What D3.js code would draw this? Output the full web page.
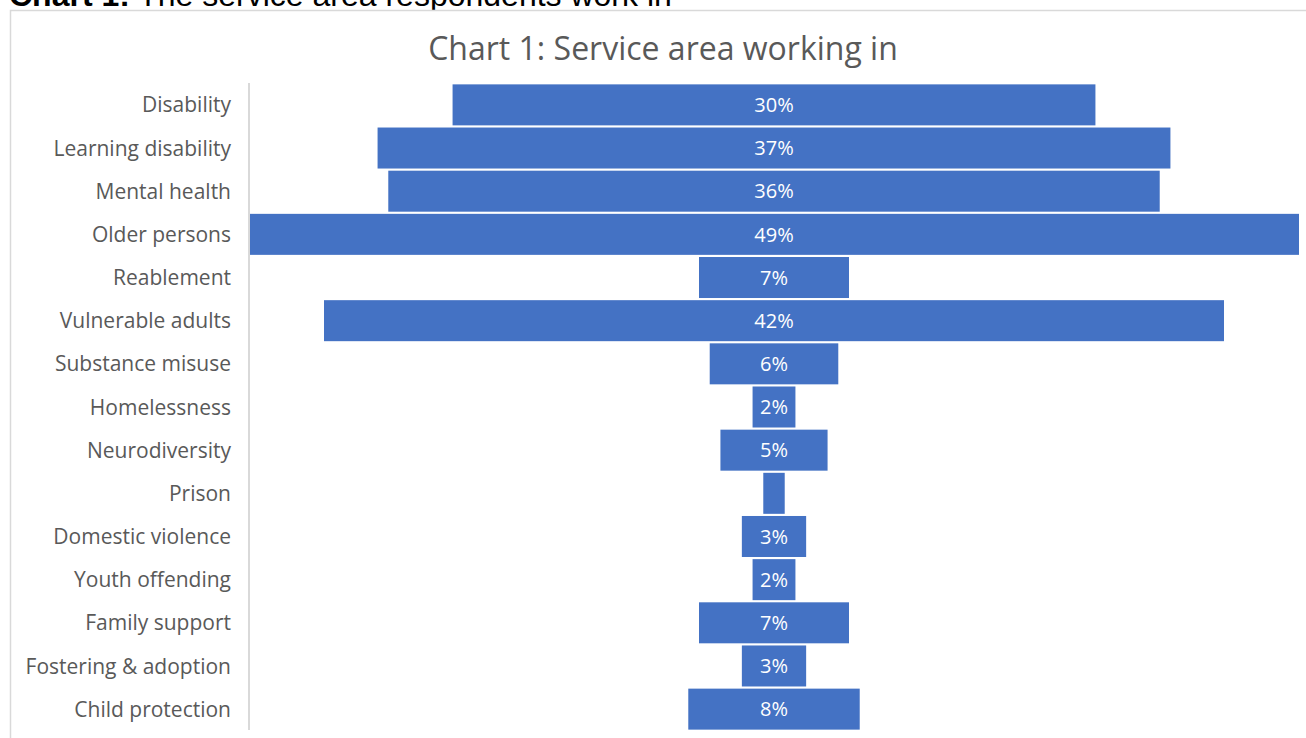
<!DOCTYPE html>
<html>
<head>
<meta charset="utf-8">
<script src="https://cdn.jsdelivr.net/npm/d3@7"></script>
<style>
  html, body { margin: 0; padding: 0; background: #fff; }
  svg { display: block; }
</style>
</head>
<body>
<svg id="chart" width="1306" height="738"></svg>
<script>
// Service areas, top to bottom
const categories = [
  "Disability", "Learning disability", "Mental health", "Older persons",
  "Reablement", "Vulnerable adults", "Substance misuse", "Homelessness",
  "Neurodiversity", "Prison", "Domestic violence", "Youth offending",
  "Family support", "Fostering & adoption", "Child protection"
];
// Share of respondents working in each area (%)
const values = [30, 37, 36, 49, 7, 42, 6, 2, 5, 1, 3, 2, 7, 3, 8];

const svg = d3.select("#chart");
const W = 1306, H = 738;

// Outer caption (runs above the frame)
const cap = svg.append("text")
  .attr("x", 9).attr("y", 6)
  .attr("font-family", "Liberation Sans, Arial, sans-serif")
  .attr("font-size", 32)
  .attr("fill", "#000");
cap.append("tspan").attr("font-weight", "bold").text("Chart 1:");
cap.append("tspan").text(" The service area respondents work in");

// Chart frame
svg.append("rect")
  .attr("x", 10.5).attr("y", 10.5)
  .attr("width", W + 20).attr("height", H + 20)
  .attr("fill", "#fff")
  .attr("stroke", "#d9d9d9").attr("stroke-width", 1.5);

// Title
svg.append("text")
  .attr("x", 663).attr("y", 60)
  .attr("text-anchor", "middle")
  .attr("font-family", "Open Sans, sans-serif")
  .attr("font-size", 32)
  .attr("fill", "#595959")
  .text("Chart 1: Service area working in");

const plotLeft = 249, plotRight = 1299;
const center = (plotLeft + plotRight) / 2;

const y = d3.scaleBand()
  .domain(categories)
  .range([83.5, 730.5])
  .paddingInner(0.05)
  .paddingOuter(0.02);

const w = d3.scaleLinear()
  .domain([0, d3.max(values)])
  .range([0, plotRight - plotLeft]);

const data = categories.map((c, i) => ({ c, v: values[i] }));

// Funnel bars, centred on the plot
svg.append("g").selectAll("rect")
  .data(data)
  .join("rect")
  .attr("x", d => center - w(d.v) / 2)
  .attr("y", d => y(d.c))
  .attr("width", d => w(d.v))
  .attr("height", y.bandwidth())
  .attr("fill", "#4472c4");

// Value labels, shown where they fit inside the bar
const lbl = svg.append("g").selectAll("text")
  .data(data)
  .join("text")
  .attr("x", center)
  .attr("y", d => y(d.c) + y.bandwidth() / 2)
  .attr("dy", "0.36em")
  .attr("text-anchor", "middle")
  .attr("font-family", "Open Sans, sans-serif")
  .attr("font-size", 20)
  .attr("fill", "#fff")
  .text(d => d.v + "%");
lbl.each(function(d) {
  if (this.getComputedTextLength() + 4 > w(d.v)) d3.select(this).remove();
});

// Category axis
const axis = d3.axisLeft(y).tickSize(0).tickPadding(18);
const ag = svg.append("g")
  .attr("transform", `translate(${plotLeft},0)`)
  .call(axis);
ag.select(".domain").remove();
ag.selectAll("text")
  .attr("font-family", "Open Sans, sans-serif")
  .attr("font-size", 21)
  .attr("dy", "0.36em")
  .attr("fill", "#595959");

svg.append("line")
  .attr("x1", plotLeft).attr("x2", plotLeft)
  .attr("y1", 83).attr("y2", 730)
  .attr("stroke", "#d9d9d9").attr("stroke-width", 2);
</script>
</body>
</html>
